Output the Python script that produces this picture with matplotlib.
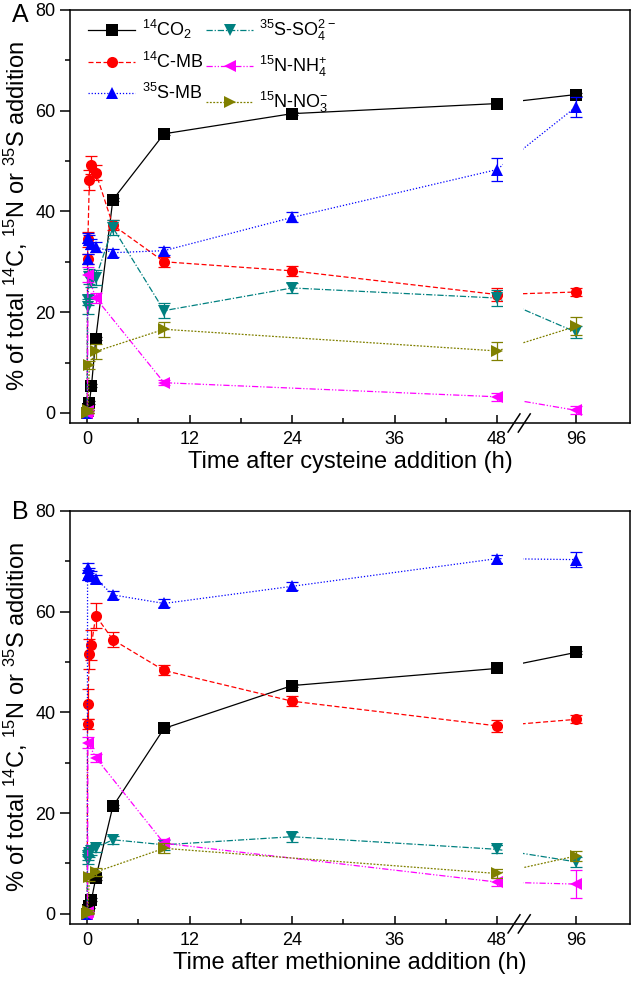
import numpy as np
import matplotlib
matplotlib.use("Agg")
import matplotlib.pyplot as plt

plt.rcParams["font.family"] = ["Liberation Sans", "DejaVu Sans"]
plt.rcParams["mathtext.default"] = "regular"

nan = np.nan
times = [0, 0.04, 0.08, 0.25, 0.5, 1, 3, 9, 24, 48, 96]
x_ticks = [0, 12, 24, 36, 48, 96]
pos_96 = 57.3  # where the 96 h point sits after the axis break

labels = ["$^{14}$CO$_2$", "$^{14}$C-MB", "$^{35}$S-MB",
          "$^{35}$S-SO$_4^{2-}$", "$^{15}$N-NH$_4^{+}$", "$^{15}$N-NO$_3^{-}$"]

# panel A: cysteine
co2_a = [0, 0.3, 0.8, 2.0, 5.4, 14.7, 42.3, 55.4, 59.4, 61.4, 63.2]
cmb_a = [0, 30.5, 34.5, 46.2, 49.2, 47.7, 37.3, 30.0, 28.2, 23.5, 24.0]
smb_a = [0, 30.5, 34.7, 34.3, 33.5, 33.0, 31.8, 32.2, 38.8, 48.3, 60.8]
so4_a = [0, 21.1, 22.4, 27.0, 26.0, 26.8, 36.8, 20.3, 24.8, 22.8, 16.0]
nh4_a = [0, 0.3, 27.4, nan, nan, 22.8, nan, 6.0, nan, 3.2, 0.5]
no3_a = [0, 0.2, 0.5, 9.5, nan, 12.2, nan, 16.6, nan, 12.3, 17.2]
err_a = [
    [0, 0.3, 0.3, 0.3, 0.3, 0.3, 0.3, 0.3, 0.3, 0.3, 0.3],
    [0, 1, 1.5, 2, 1.8, 1.5, 1, 1, 1, 1.2, 0.8],
    [0, 1, 1, 1, 1, 1, 0.8, 0.8, 1, 2.2, 2.0],
    [0, 1.5, 1, 1.5, 1, 1.5, 1.5, 1.5, 1, 1.5, 1.2],
    [0, 0.3, 1.5, 0, 0, 1, 0, 0.5, 0, 0.8, 0.8],
    [0, 0.2, 0.5, 0.8, 0, 1.5, 0, 1.5, 0, 1.8, 1.8],
]

# panel B: methionine
co2_b = [0, 0.5, 0.8, 1.5, 2.8, 7.1, 21.3, 36.8, 45.3, 48.7, 51.9]
cmb_b = [0, 37.7, 41.7, 51.6, 53.4, 59.2, 54.4, 48.3, 42.2, 37.3, 38.6]
smb_b = [0, 67.2, 68.7, 67.7, 67.0, 66.5, 63.3, 61.6, 65.0, 70.5, 70.3]
so4_b = [0, 10.7, 11.5, 12.0, 12.5, 13.1, 14.7, 13.7, 15.3, 12.8, 10.3]
nh4_b = [0, 0.3, 34.0, nan, nan, 31.0, nan, 14.0, nan, 6.3, 5.9]
no3_b = [0, 0.2, 0.5, 7.3, nan, 8.3, nan, 13.0, nan, 8.0, 11.5]
err_b = [
    [0, 0.3, 0.3, 0.3, 0.3, 0.3, 0.3, 0.3, 0.3, 0.3, 0.3],
    [0, 1, 3, 3, 3, 2.5, 1.5, 1, 1, 1.2, 0.8],
    [0, 1, 1, 1, 1, 0.8, 0.8, 0.8, 0.8, 0.8, 1.5],
    [0, 0.8, 0.8, 0.8, 0.8, 0.8, 0.8, 1, 1, 0.8, 1],
    [0, 0.3, 1, 0, 0, 0.8, 0, 0.8, 0, 0.8, 2.8],
    [0, 0.2, 0.3, 0.8, 0, 0.8, 0, 1, 0, 0.8, 1],
]

colors = ["black", "red", "blue", "#008080", "magenta", "#808000"]
markers = ["s", "o", "^", "v", "<", ">"]
styles = ["-", (0, (4, 2)), (0, (1, 1.5)), (0, (5, 1.5, 1, 1.5)),
          (0, (5, 1.5, 1, 1.5, 1, 1.5)), (0, (1.5, 1.2))]


def xpos(t):
    t = np.asarray(t, dtype=float)
    return np.where(t > 48, pos_96, t)


def draw(ax, series, errs, xlabel):
    x = xpos(times)
    handles = []
    for y, e, c, m, ls in zip(series, errs, colors, markers, styles):
        y = np.asarray(y, dtype=float)
        e = np.asarray(e, dtype=float)
        ok = ~np.isnan(y)
        ax.errorbar(x[ok], y[ok], yerr=e[ok], fmt="none", ecolor=c,
                    elinewidth=0.9, capsize=4, capthick=0.9, zorder=2)
        h, = ax.plot(x[ok], y[ok], color=c, ls=ls, lw=0.9, marker=m,
                     markersize=8, markeredgewidth=0, zorder=2)
        handles.append(h)
    # gap in the lines at the axis break
    ax.axvspan(48.75, 51.05, facecolor="white", edgecolor="none", zorder=2.2)
    tr = ax.get_xaxis_transform()
    for x0 in (49.3, 50.5):
        ax.plot([x0, x0 + 1.4], [-0.022, 0.022], color="black", lw=1.1,
                transform=tr, clip_on=False, zorder=5)

    ax.set_xlim(-2, 63.6)
    ax.set_ylim(-2, 80)
    ax.set_xticks(xpos(x_ticks))
    ax.set_xticklabels([str(v) for v in x_ticks])
    ax.set_xticks([6, 18, 30, 42], minor=True)
    ax.set_yticks([0, 20, 40, 60, 80])
    ax.set_yticks([10, 30, 50, 70], minor=True)
    ax.tick_params(axis="x", which="major", direction="in", length=6, width=1.1,
                   labelsize=13, pad=6)
    ax.tick_params(axis="x", which="minor", direction="in", length=3.5, width=1.1)
    ax.tick_params(axis="y", which="major", direction="out", length=7, width=1.1,
                   labelsize=13)
    ax.tick_params(axis="y", which="minor", direction="out", length=3.5, width=1.1)
    for s in ax.spines.values():
        s.set_linewidth(1.1)
    ax.set_xlabel(xlabel, fontsize=17, labelpad=2)
    ax.set_ylabel("% of total $^{14}$C, $^{15}$N or $^{35}$S addition",
                  fontsize=17, labelpad=4)
    return handles


fig = plt.figure(figsize=(6.32, 9.86), dpi=100)
ax1 = fig.add_axes([0.111, 0.571, 0.886, 0.419])
ax2 = fig.add_axes([0.111, 0.063, 0.886, 0.419])

h = draw(ax1, [co2_a, cmb_a, smb_a, so4_a, nh4_a, no3_a], err_a,
         "Time after cysteine addition (h)")
draw(ax2, [co2_b, cmb_b, smb_b, so4_b, nh4_b, no3_b], err_b,
     "Time after methionine addition (h)")

fig.text(12 / 632, 1 - 15 / 986, "A", fontsize=18, va="center", ha="left")
fig.text(12 / 632, 1 - 512 / 986, "B", fontsize=18, va="center", ha="left")

ax1.legend(h, labels, ncol=2, loc="upper left", bbox_to_anchor=(0.01, 1.01),
           frameon=False, fontsize=13, handlelength=2.6, handletextpad=0.35,
           columnspacing=0.15, labelspacing=0.6, borderaxespad=0.3)

fig.savefig("out.png", dpi=100)
